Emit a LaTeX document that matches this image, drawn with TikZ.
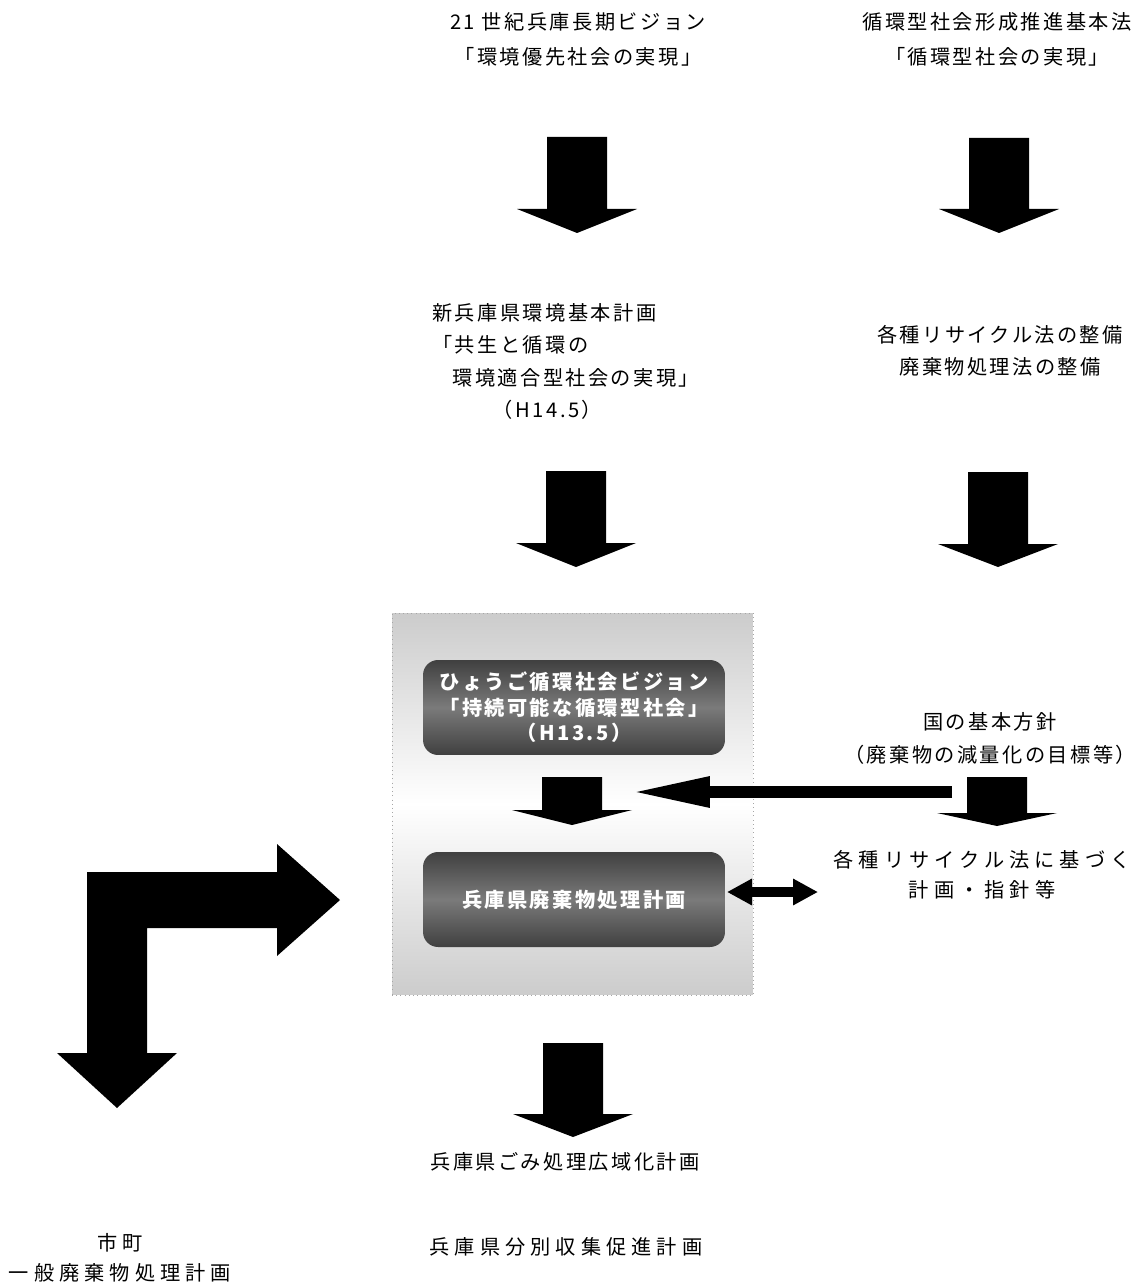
\documentclass[tikz,border=0pt]{standalone}
\usepackage{fontspec}
\setmainfont{Noto Sans CJK JP}[LetterSpace=12]
\usetikzlibrary{arrows.meta}

% thick block arrow pointing down: x, top, head start, tip
\newcommand{\blockdown}[4]{%
  \fill (#1-30,#2) -- (#1+30,#2) -- (#1+30,#3) -- (#1+60,#3) -- (#1,#4)
        -- (#1-60,#3) -- (#1-30,#3) -- cycle;}

\begin{document}
\begin{tikzpicture}[x=0.02cm,y=-0.02cm]
\tikzset{
    texto/.style={align=center, inner sep=0pt, font=\fontsize{11.5}{18.5}\selectfont},
    largo/.style={font=\fontsize{11.5}{17}\selectfont\addfontfeature{LetterSpace=25}},
    moldura/.style={draw=gray!70, dotted, inner sep=0pt,
                    minimum width=7.22cm, minimum height=7.64cm,
                    top color=gray!40, bottom color=gray!40, middle color=white},
    plano/.style={rounded corners=0.3cm, inner sep=0pt,
                  minimum width=6.04cm, minimum height=1.9cm,
                  top color=black!75, bottom color=black!75, middle color=black!52,
                  text=white, align=center, font=\bfseries\fontsize{11.5}{14.5}\selectfont},
    seta/.style={line width=0.24cm, -{Triangle[length=1.6cm, width=0.56cm]}},
    setadupla/.style={line width=0.2cm,
                      {Triangle[length=0.5cm, width=0.5cm]}-{Triangle[length=0.5cm, width=0.5cm]}}
}
\useasboundingbox (0,0) rectangle (1139,1287);

% central frame
\node[moldura] (frame) at (572.5,804) {};
\node[plano] (vision) at (574,707.5) {ひょうご循環社会ビジョン\\「持続可能な循環型社会」\\（H13.5）};
\node[plano] (haiki)  at (574,899.5) {兵庫県廃棄物処理計画};

% texts
\node[texto, font=\fontsize{11.5}{20}\selectfont] (vis21) at (578,39.5)
      {21 世紀兵庫長期ビジョン\\「環境優先社会の実現」};
\node[texto, font=\fontsize{11.5}{20}\selectfont] (junkan) at (997,39.5)
      {循環型社会形成推進基本法\\「循環型社会の実現」};
\node[texto, align=left, anchor=west] (shinplan) at (432,361.5)
      {新兵庫県環境基本計画\\「共生と循環の\\\hspace{1em}環境適合型社会の実現」\\\hspace{3em}（H14.5）};
\node[texto] (seibi)   at (1000,351)   {各種リサイクル法の整備\\廃棄物処理法の整備};
\node[texto] (kuni)    at (990,738.5)  {国の基本方針\\（廃棄物の減量化の目標等）};
\node[texto, largo] (recyplan) at (982,875)  {各種リサイクル法に基づく\\計画・指針等};
\node[texto, largo] (shicho)   at (120,1258) {市町\\一般廃棄物処理計画};
\node[texto] (gomi)     at (565,1162) {兵庫県ごみ処理広域化計画};
\node[texto, largo] (bunbetsu) at (566,1247) {兵庫県分別収集促進計画};

% block arrows
\blockdown{577}{137}{209}{233}
\blockdown{999}{138}{209}{233}
\blockdown{576}{471}{543}{567}
\blockdown{998}{472}{544}{567}
\blockdown{572}{777}{810}{825}
\blockdown{997}{777}{813}{826}
\blockdown{573}{1043}{1114}{1137}

% bent arrow to the cities
\fill (87,872) -- (277,872) -- (277,844) -- (340,900) -- (277,956) -- (277,928)
   -- (147,928) -- (147,1053) -- (177,1053) -- (117,1108) -- (57,1053) -- (87,1053) -- cycle;

% connectors
\coordinate (kuniL)   at (952,792);
\coordinate (visionR) at (630,792);
\draw[seta] (kuniL) -- (visionR);
\coordinate (dblL) at (727,892);
\coordinate (dblR) at (818,892);
\draw[setadupla] (dblL) -- (dblR);
\end{tikzpicture}
\end{document}
